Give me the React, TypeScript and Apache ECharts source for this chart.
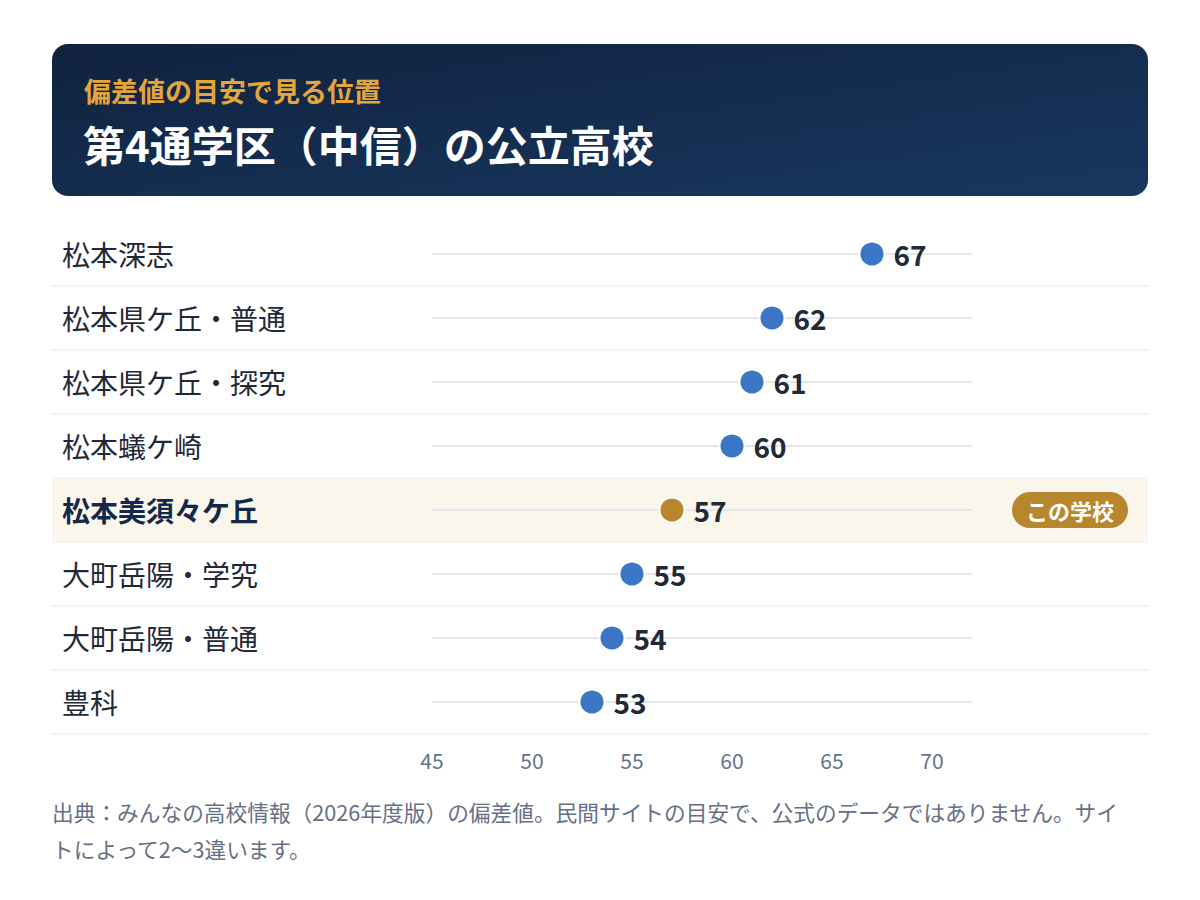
import React, { useEffect, useRef } from 'react'
import * as echarts from 'echarts'

const schools = [
  '松本深志',
  '松本県ケ丘・普通',
  '松本県ケ丘・探究',
  '松本蟻ケ崎',
  '松本美須々ケ丘',
  '大町岳陽・学究',
  '大町岳陽・普通',
  '豊科'
]
const hensachi = [67, 62, 61, 60, 57, 55, 54, 53]
const thisSchool = '松本美須々ケ丘'
const axisMin = 45
const axisMax = 72
const tickStep = 5

const subtitle = '偏差値の目安で見る位置'
const title = '第4通学区（中信）の公立高校'
const badgeText = 'この学校'
const noteLines = [
  '出典：みんなの高校情報（2026年度版）の偏差値。民間サイトの目安で、公式のデータではありません。サイ',
  'トによって2〜3違います。'
]

const FONT = "'Noto Sans CJK JP', 'Noto Sans', sans-serif"
const BLUE = '#3b76c6'
const GOLD = '#b8862c'

const App: React.FC = () => {
  const chartRef = useRef<HTMLDivElement>(null)

  useEffect(() => {
    document.body.style.margin = '0'
    if (!chartRef.current) return
    const chart = echarts.init(chartRef.current, undefined, { renderer: 'svg' })

    const rowData = schools.map(s => [axisMin, s])

    const option: any = {
      animation: false,
      backgroundColor: '#ffffff',
      textStyle: { fontFamily: FONT },
      grid: { left: 432, right: 228, top: 222, bottom: 166 },
      xAxis: {
        type: 'value',
        min: axisMin,
        max: axisMax,
        interval: tickStep,
        axisLine: { show: false },
        axisTick: { show: false },
        splitLine: { show: false },
        axisLabel: {
          fontSize: 21,
          color: '#64748b',
          margin: 15,
          showMaxLabel: false,
          formatter: (v: number) => (v > 70 ? '' : String(v))
        }
      },
      yAxis: {
        type: 'category',
        inverse: true,
        data: schools,
        z: 10,
        axisLine: { show: false },
        axisTick: { show: false },
        splitLine: { show: false },
        axisLabel: {
          interval: 0,
          align: 'left',
          margin: 370,
          fontSize: 28,
          color: '#1f2937',
          formatter: (v: string) => (v === thisSchool ? `{hl|${v}}` : v),
          rich: {
            hl: { fontSize: 28, fontWeight: 'bold', color: '#13284a', fontFamily: FONT }
          }
        }
      },
      graphic: [
        {
          type: 'rect',
          shape: { x: 52, y: 44, width: 1096, height: 152, r: 16 },
          style: {
            fill: new echarts.graphic.LinearGradient(0, 0, 1, 1, [
              { offset: 0, color: '#10223f' },
              { offset: 1, color: '#18385f' }
            ])
          },
          z: 0
        },
        {
          type: 'text',
          x: 84,
          y: 90,
          style: {
            text: subtitle,
            fill: '#e3a63c',
            fontSize: 27,
            fontWeight: 'bold',
            fontFamily: FONT,
            verticalAlign: 'middle'
          }
        },
        {
          type: 'text',
          x: 83,
          y: 143,
          style: {
            text: title,
            fill: '#ffffff',
            fontSize: 42,
            fontWeight: 'bold',
            fontFamily: FONT,
            verticalAlign: 'middle'
          }
        },
        {
          type: 'text',
          x: 52,
          y: 811,
          style: {
            text: noteLines[0],
            fill: '#667085',
            fontSize: 21.7,
            fontFamily: FONT,
            verticalAlign: 'middle'
          }
        },
        {
          type: 'text',
          x: 52,
          y: 848,
          style: {
            text: noteLines[1],
            fill: '#667085',
            fontSize: 21.7,
            fontFamily: FONT,
            verticalAlign: 'middle'
          }
        }
      ],
      series: [
        {
          type: 'custom',
          clip: false,
          silent: true,
          z: 1,
          encode: { x: 0, y: 1 },
          data: rowData,
          renderItem: (params: any, api: any) => {
            const idx = api.value(1)
            const start = api.coord([axisMin, idx])
            const end = api.coord([axisMax, idx])
            const bandH = api.size([0, 1])[1]
            const cy = start[1]
            const top = cy - bandH / 2
            const isThis = schools[params.dataIndex] === thisSchool
            const children: any[] = []
            if (isThis) {
              children.push({
                type: 'rect',
                shape: { x: 52, y: top, width: 1096, height: bandH },
                style: { fill: '#fbf6ec' }
              })
            }
            children.push({
              type: 'line',
              shape: { x1: 52, y1: top + bandH, x2: 1148, y2: top + bandH },
              style: { stroke: '#eef0f3', lineWidth: 1.5 }
            })
            children.push({
              type: 'line',
              shape: { x1: start[0], y1: cy, x2: end[0], y2: cy },
              style: { stroke: '#e4e6ea', lineWidth: 2 }
            })
            if (isThis) {
              children.push({
                type: 'rect',
                shape: { x: 1012, y: cy - 18, width: 116, height: 36, r: 18 },
                style: { fill: GOLD }
              })
              children.push({
                type: 'text',
                style: {
                  text: badgeText,
                  x: 1070,
                  y: cy,
                  fill: '#ffffff',
                  fontSize: 22,
                  fontWeight: 'bold',
                  fontFamily: FONT,
                  align: 'center',
                  verticalAlign: 'middle'
                }
              })
            }
            return { type: 'group', children }
          }
        },
        {
          type: 'scatter',
          symbol: 'circle',
          symbolSize: 25,
          z: 3,
          data: hensachi.map((v, i) => ({
            value: [v, schools[i]],
            itemStyle: {
              color: schools[i] === thisSchool ? GOLD : BLUE,
              borderColor: '#ffffff',
              borderWidth: 2,
              opacity: 1
            }
          })),
          label: {
            show: true,
            position: 'right',
            distance: 8,
            fontSize: 28,
            fontWeight: 'bold',
            color: '#1f2937',
            fontFamily: FONT,
            formatter: (p: any) => String(p.value[0])
          }
        }
      ]
    }

    chart.setOption(option)

    return () => {
      chart.dispose()
    }
  }, [])

  return <div ref={chartRef} style={{ width: 1200, height: 900 }} />
}

export default App
